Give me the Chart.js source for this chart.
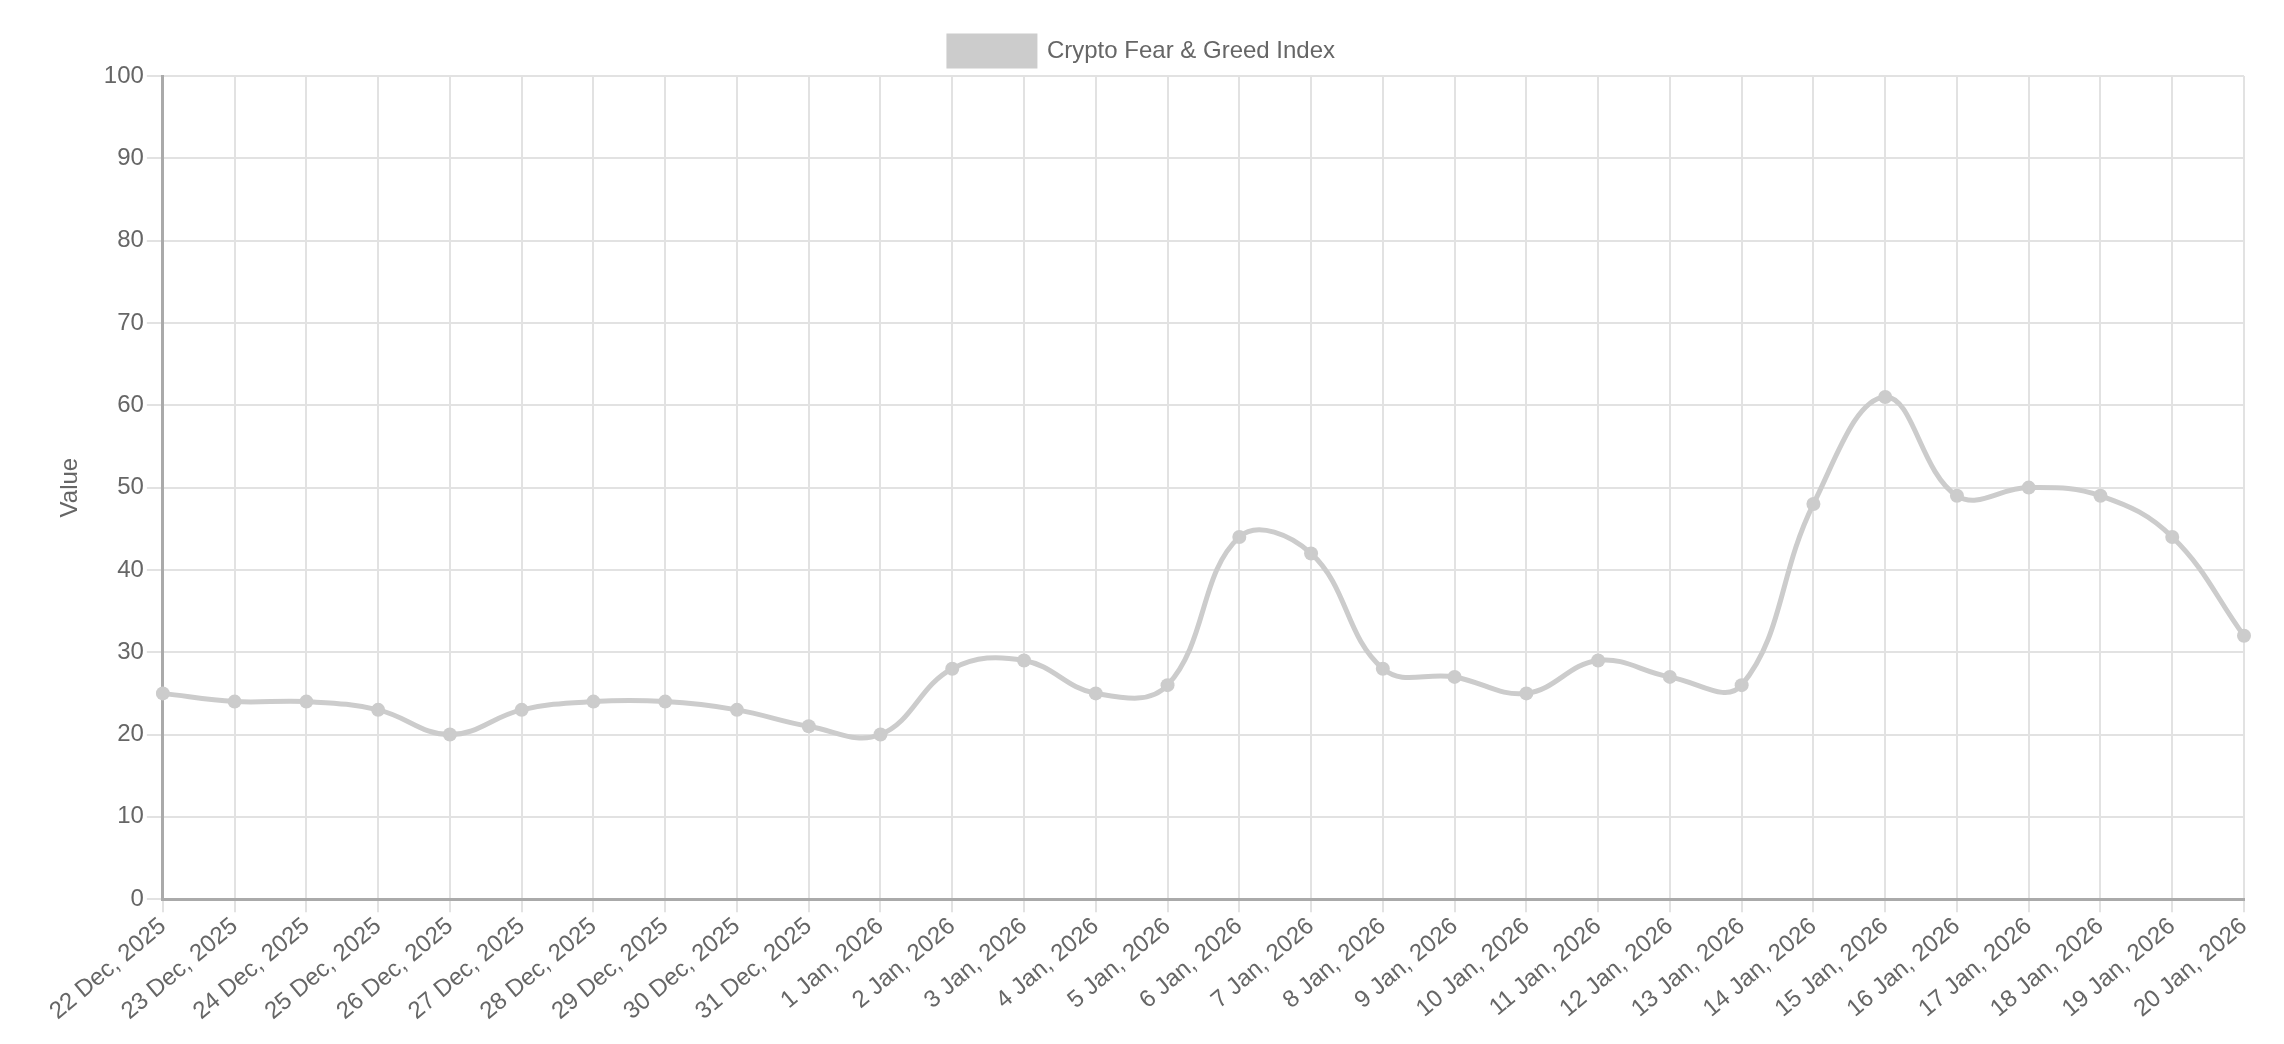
<!DOCTYPE html>
<html>
<head>
<meta charset="utf-8">
<script src="https://cdn.jsdelivr.net/npm/chart.js@4.4.0/dist/chart.umd.min.js"></script>
<style>
  html, body { margin: 0; padding: 0; background: #fff; }
  #wrap { width: 2284px; height: 1044px; }
</style>
</head>
<body>
<div id="wrap"><canvas id="grafico" width="2284" height="1044"></canvas></div>
<script>
// Dados do gráfico //
var datas = ['22 Dec, 2025', '23 Dec, 2025', '24 Dec, 2025', '25 Dec, 2025', '26 Dec, 2025',
    '27 Dec, 2025', '28 Dec, 2025', '29 Dec, 2025', '30 Dec, 2025', '31 Dec, 2025',
    '1 Jan, 2026', '2 Jan, 2026', '3 Jan, 2026', '4 Jan, 2026', '5 Jan, 2026',
    '6 Jan, 2026', '7 Jan, 2026', '8 Jan, 2026', '9 Jan, 2026', '10 Jan, 2026',
    '11 Jan, 2026', '12 Jan, 2026', '13 Jan, 2026', '14 Jan, 2026', '15 Jan, 2026',
    '16 Jan, 2026', '17 Jan, 2026', '18 Jan, 2026', '19 Jan, 2026', '20 Jan, 2026'];
var valores = [25, 24, 24, 23, 20, 23, 24, 24, 23, 21,
    20, 28, 29, 25, 26, 44, 42, 28, 27, 25,
    29, 27, 26, 48, 61, 49, 50, 49, 44, 32];
var nomeSerie = 'Crypto Fear & Greed Index';
var tituloY = 'Value';
// ----------------------------------- //

Chart.defaults.font.family = '"Liberation Sans", Arial, Helvetica, sans-serif';
Chart.defaults.font.size = 24;
Chart.defaults.color = '#666';

const config = {
    type: 'line',
    data: {
        labels: datas,
        datasets: [{
            label: nomeSerie,
            data: valores,
            borderColor: 'rgb(204, 204, 204)',
            backgroundColor: 'rgb(204, 204, 204)',
            borderWidth: 5,
            pointRadius: 7,
            pointBackgroundColor: 'rgb(204, 204, 204)',
            pointBorderWidth: 0,
            tension: 0.4,
            fill: false
        }]
    },
    options: {
        responsive: false,
        animation: false,
        layout: { padding: { left: 40, right: 40, top: 18, bottom: 18 } },
        plugins: {
            legend: {
                labels: {
                    boxWidth: 86,
                    boxHeight: 30,
                    padding: 18,
                    font: { size: 24 }
                }
            },
            tooltip: { enabled: false }
        },
        scales: {
            x: {
                grid: { color: '#e2e2e2', lineWidth: 2, tickLength: 13 },
                border: { color: '#aaa', width: 3 },
                ticks: { maxRotation: 40, minRotation: 40, autoSkip: false, padding: 0 }
            },
            y: {
                min: 0,
                max: 100,
                ticks: { stepSize: 10, padding: 3 },
                grid: { color: '#e2e2e2', lineWidth: 2, tickLength: 16 },
                border: { color: '#aaa', width: 3 },
                title: { display: true, text: tituloY, font: { size: 24 }, padding: 16 }
            }
        }
    }
};

var myChart = new Chart(document.getElementById('grafico'), config);
</script>
</body>
</html>
